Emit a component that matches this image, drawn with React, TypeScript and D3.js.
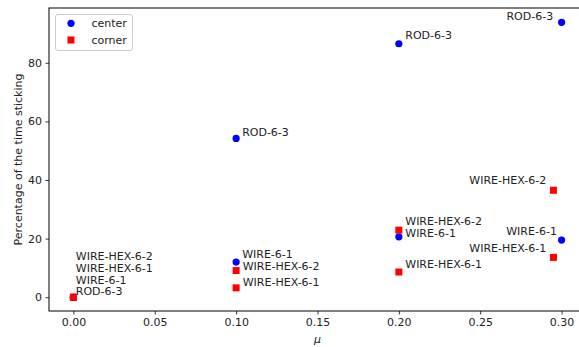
import React, { useEffect, useRef } from 'react';
import * as d3 from 'd3';

// center series (blue circles)
const centerMu = [0, 0, 0.1, 0.1, 0.2, 0.2, 0.3, 0.3];
const centerPct = [0, 0, 54.2, 12.0, 86.5, 20.6, 93.8, 19.5];
const centerNames = ['ROD-6-3', 'WIRE-6-1', 'ROD-6-3', 'WIRE-6-1', 'ROD-6-3', 'WIRE-6-1', 'ROD-6-3', 'WIRE-6-1'];

// corner series (red squares)
const cornerMu = [0, 0, 0.1, 0.1, 0.2, 0.2, 0.295, 0.295];
const cornerPct = [0, 0, 3.2, 9.1, 8.6, 22.9, 13.6, 36.5];
const cornerNames = ['WIRE-HEX-6-1', 'WIRE-HEX-6-2', 'WIRE-HEX-6-1', 'WIRE-HEX-6-2', 'WIRE-HEX-6-1', 'WIRE-HEX-6-2', 'WIRE-HEX-6-1', 'WIRE-HEX-6-2'];

// label placement in px relative to the marker: [dx, dy, anchor]
const centerLabelPos: [number, number, string][] = [
  [2.4, -6.3, 'start'], [2.4, -17.6, 'start'], [6, -6, 'start'], [6, -8, 'start'],
  [6.4, -9, 'start'], [6.4, -4, 'start'], [-8.4, -6.3, 'end'], [-4.7, -9, 'end'],
];
const cornerLabelPos: [number, number, string][] = [
  [2.4, -29.6, 'start'], [2.4, -41.6, 'start'], [6.6, -5.7, 'start'], [6.6, -5, 'start'],
  [6.4, -8.3, 'start'], [6.4, -9, 'start'], [-7.3, -9.6, 'end'], [-7.3, -10, 'end'],
];

const xTicks = [0, 0.05, 0.1, 0.15, 0.2, 0.25, 0.3];
const yTicks = [0, 20, 40, 60, 80];

const W = 579;
const H = 347;
const FONT = '"DejaVu Sans", sans-serif';

const App = () => {
  const ref = useRef<SVGSVGElement>(null);

  useEffect(() => {
    const svg = d3.select(ref.current);
    svg.selectAll('*').remove();

    const left = 49, right = 586, top = 8, bottom = 311;
    const x = d3.scaleLinear().domain([-0.015, 0.315]).range([left, right]);
    const y = d3.scaleLinear().domain([-4.7, 98.7]).range([bottom, top]);

    svg.append('rect').attr('width', W).attr('height', H).attr('fill', '#fff');

    // axes
    const xAxis = svg.append('g')
      .attr('transform', `translate(0,${bottom})`)
      .call(d3.axisBottom(x).tickValues(xTicks).tickFormat(d3.format('.2f')).tickSize(3.5).tickPadding(3.5));
    const yAxis = svg.append('g')
      .attr('transform', `translate(${left},0)`)
      .call(d3.axisLeft(y).tickValues(yTicks).tickFormat(d3.format('d')).tickSize(3.5).tickPadding(3.5));
    [xAxis, yAxis].forEach(g => {
      g.select('.domain').remove();
      g.selectAll('line').attr('stroke', '#000').attr('stroke-width', 0.8);
      g.selectAll('text').attr('font-family', FONT).attr('font-size', 11).attr('fill', '#222');
    });

    // spines
    svg.append('rect')
      .attr('x', left).attr('y', top)
      .attr('width', right - left).attr('height', bottom - top)
      .attr('fill', 'none').attr('stroke', '#000').attr('stroke-width', 1);

    const plot = svg.append('g');

    // center points
    plot.selectAll('circle.center')
      .data(centerMu)
      .enter()
      .append('circle')
      .attr('class', 'center')
      .attr('cx', d => x(d))
      .attr('cy', (_, i) => y(centerPct[i]))
      .attr('r', 3.6)
      .attr('fill', '#0000ff');

    // corner points
    plot.selectAll('rect.corner')
      .data(cornerMu)
      .enter()
      .append('rect')
      .attr('class', 'corner')
      .attr('x', d => x(d) - 3.5)
      .attr('y', (_, i) => y(cornerPct[i]) - 3.5)
      .attr('width', 7)
      .attr('height', 7)
      .attr('fill', '#ff0000');

    const addLabels = (mu: number[], pct: number[], names: string[], pos: [number, number, string][]) => {
      plot.append('g').selectAll('text')
        .data(mu)
        .enter()
        .append('text')
        .attr('x', (d, i) => x(d) + pos[i][0])
        .attr('y', (_, i) => y(pct[i]) + pos[i][1])
        .attr('dy', '0.36em')
        .attr('text-anchor', (_, i) => pos[i][2])
        .attr('font-family', FONT)
        .attr('font-size', 11)
        .attr('fill', '#222')
        .text((_, i) => names[i]);
    };
    addLabels(centerMu, centerPct, centerNames, centerLabelPos);
    addLabels(cornerMu, cornerPct, cornerNames, cornerLabelPos);

    // axis labels
    svg.append('text')
      .attr('x', (left + right) / 2)
      .attr('y', 339)
      .attr('dy', '0.36em')
      .attr('text-anchor', 'middle')
      .attr('font-family', FONT)
      .attr('font-size', 11)
      .attr('font-style', 'italic')
      .attr('fill', '#222')
      .text('μ');
    svg.append('text')
      .attr('transform', `translate(18,${(top + bottom) / 2}) rotate(-90)`)
      .attr('dy', '0.36em')
      .attr('text-anchor', 'middle')
      .attr('font-family', FONT)
      .attr('font-size', 11)
      .attr('fill', '#222')
      .text('Percentage of the time sticking');

    // legend
    const lg = svg.append('g');
    lg.append('rect')
      .attr('x', 55.5).attr('y', 14.5)
      .attr('width', 77).attr('height', 36)
      .attr('rx', 2.5)
      .attr('fill', '#fff').attr('fill-opacity', 0.8)
      .attr('stroke', '#ccc').attr('stroke-width', 1);
    lg.append('circle').attr('cx', 71).attr('cy', 23.3).attr('r', 3.6).attr('fill', '#0000ff');
    lg.append('rect').attr('x', 67.5).attr('y', 36.5).attr('width', 7).attr('height', 7).attr('fill', '#ff0000');
    [['center', 23.3], ['corner', 40]].forEach(([t, yy]) => {
      lg.append('text')
        .attr('x', 91.5).attr('y', yy as number)
        .attr('dy', '0.36em')
        .attr('font-family', FONT)
        .attr('font-size', 11)
        .attr('fill', '#222')
        .text(t as string);
    });
  }, []);

  return (
    <svg ref={ref} width={W} height={H} style={{ position: 'absolute', left: 0, top: 0 }}></svg>
  );
};

export default App;
